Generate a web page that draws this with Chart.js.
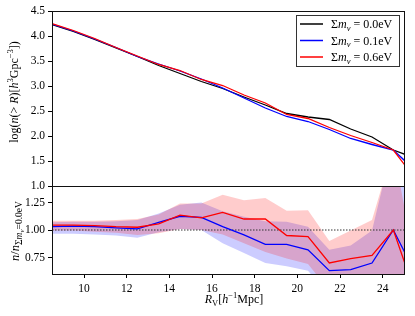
<!DOCTYPE html>
<html>
<head>
<meta charset="utf-8">
<script src="https://cdn.jsdelivr.net/npm/chart.js@4.4.0/dist/chart.umd.min.js"></script>
<style>
    html, body { margin: 0; padding: 0; background: #fff; }
    #wrap { position: relative; width: 415px; height: 316px; }
    canvas { position: absolute; left: 0; top: 0; }
</style>
</head>
<body>
<div id="wrap">
    <canvas id="top-chart" width="415" height="316"></canvas>
    <canvas id="ratio-chart" width="415" height="316"></canvas>
</div>
<script>
// Void radius bin centres (h^-1 Mpc)
const rv = [8.5, 9.5, 10.5, 11.5, 12.5, 13.5, 14.5, 15.5, 16.5, 17.5, 18.5, 19.5, 20.5, 21.5, 22.5, 23.5, 24.5, 25.5];

// log cumulative number density, one list per neutrino mass
const logN00 = [4.23, 4.09, 3.93, 3.76, 3.59, 3.41, 3.25, 3.09, 2.95, 2.78, 2.62, 2.45, 2.38, 2.33, 2.14, 1.98, 1.72, 1.56];
const logN01 = [4.24, 4.10, 3.94, 3.77, 3.59, 3.44, 3.30, 3.14, 2.96, 2.76, 2.56, 2.39, 2.29, 2.13, 1.95, 1.83, 1.72, 1.32];
const logN06 = [4.25, 4.11, 3.95, 3.77, 3.60, 3.43, 3.31, 3.13, 3.01, 2.82, 2.66, 2.43, 2.35, 2.17, 2.01, 1.87, 1.72, 1.16];

// ratio to the massless case, with error bands
const ratio01 = [1.03, 1.035, 1.03, 1.02, 1.01, 1.07, 1.125, 1.115, 1.03, 0.955, 0.87, 0.87, 0.82, 0.63, 0.64, 0.70, 1.0, 0.62];
const ratio06 = [1.045, 1.045, 1.04, 1.03, 1.025, 1.055, 1.135, 1.11, 1.16, 1.10, 1.10, 0.95, 0.94, 0.70, 0.74, 0.77, 1.0, 0.44];
const ratio01Hi = [1.07, 1.075, 1.075, 1.08, 1.09, 1.15, 1.23, 1.25, 1.17, 1.12, 1.08, 1.075, 1.03, 0.82, 0.86, 0.995, 1.8, 1.1];
const ratio01Lo = [0.965, 0.965, 0.96, 0.95, 0.93, 0.98, 1.01, 1.00, 0.88, 0.79, 0.70, 0.67, 0.63, 0.40, 0.40, 0.45, 0.50, 0.2];
const ratio06Hi = [1.085, 1.085, 1.085, 1.09, 1.10, 1.14, 1.24, 1.24, 1.32, 1.27, 1.29, 1.175, 1.18, 0.90, 0.995, 1.09, 1.75, 0.7];
const ratio06Lo = [0.995, 0.995, 0.985, 0.975, 0.955, 0.97, 1.01, 1.00, 0.96, 0.88, 0.80, 0.74, 0.69, 0.45, 0.48, 0.50, 0.45, 0.15];
const refLevel = 1.0;

// legend masses and tick positions
const masses = ['0.0', '0.1', '0.6'];
const seriesColors = ['#000000', '#0000ff', '#ff0000'];
const xTicks = [10, 12, 14, 16, 18, 20, 22, 24];
const topTicks = [1.0, 1.5, 2.0, 2.5, 3.0, 3.5, 4.0, 4.5];
const ratioTicks = [0.75, 1.00, 1.25];

const SERIF = '"Liberation Serif", "DejaVu Serif", serif';
const tickFont = { family: SERIF, size: 11.5 };

function pts(ys) {
    return rv.map((x, i) => ({ x: x, y: ys[i] }));
}

// draw a run of text pieces (sub/superscripts via dy)
function runsWidth(ctx, runs) {
    let w = 0;
    runs.forEach(r => {
        ctx.font = (r.it ? 'italic ' : '') + (r.s || 12) + 'px ' + SERIF;
        w += ctx.measureText(r.t).width;
    });
    return w;
}
function drawRuns(ctx, runs, x, y) {
    runs.forEach(r => {
        ctx.font = (r.it ? 'italic ' : '') + (r.s || 12) + 'px ' + SERIF;
        ctx.fillText(r.t, x, y + (r.dy || 0));
        x += ctx.measureText(r.t).width;
    });
}

// box round the plot area
const framePlugin = {
    id: 'frame',
    afterDraw(chart) {
        const { ctx, chartArea: a } = chart;
        ctx.save();
        ctx.strokeStyle = '#111';
        ctx.lineWidth = 1;
        ctx.strokeRect(a.left + 0.5, a.top + 0.5, a.right - a.left, a.bottom - a.top);
        ctx.restore();
    }
};

// matplotlib style legend with subscript nu
const legendPlugin = {
    id: 'mplLegend',
    afterDraw(chart) {
        const ctx = chart.ctx;
        ctx.save();
        ctx.fillStyle = '#fff';
        ctx.fillRect(296.5, 15.5, 103, 51);
        ctx.strokeStyle = '#333';
        ctx.lineWidth = 1;
        ctx.strokeRect(296.5, 15.5, 103, 51);
        masses.forEach((m, i) => {
            const y = 24 + i * 16.5;
            ctx.strokeStyle = seriesColors[i];
            ctx.lineWidth = 1.5;
            ctx.beginPath();
            ctx.moveTo(300, y);
            ctx.lineTo(323, y);
            ctx.stroke();
            ctx.fillStyle = '#000';
            ctx.textBaseline = 'alphabetic';
            drawRuns(ctx, [
                { t: 'Σ' }, { t: 'm', it: 1 }, { t: 'ν', it: 1, s: 8.5, dy: 2.5 }, { t: ' = ' + m + 'eV' }
            ], 331, y + 4);
        });
        ctx.restore();
    }
};

// axis titles with sub/superscripts
const titlePlugin = {
    id: 'titles',
    afterDraw(chart) {
        const ctx = chart.ctx;
        ctx.save();
        ctx.fillStyle = '#000';
        ctx.textBaseline = 'alphabetic';

        const yTop = [
            { t: 'log(' }, { t: 'n', it: 1 }, { t: '(> ' }, { t: 'R', it: 1 }, { t: ')[' },
            { t: 'h', it: 1 }, { t: '3', s: 8.5, dy: -5 }, { t: 'Gpc' }, { t: '−3', s: 8.5, dy: -5 }, { t: '])' }
        ];
        let w = runsWidth(ctx, yTop);
        ctx.save();
        ctx.translate(14, 92);
        ctx.rotate(-Math.PI / 2);
        drawRuns(ctx, yTop, -w / 2, 4);
        ctx.restore();

        const yRatio = [
            { t: 'n', it: 1, s: 12.5 }, { t: '/', s: 12.5 }, { t: 'n', it: 1, s: 12.5 }, { t: 'Σ', s: 9.5, dy: 2.5 },
            { t: 'm', it: 1, s: 9.5, dy: 2.5 }, { t: 'ν', it: 1, s: 7, dy: 4.5 }, { t: '=0.0eV', s: 9.5, dy: 2.5 }
        ];
        w = runsWidth(ctx, yRatio);
        ctx.save();
        ctx.translate(15, 231);
        ctx.rotate(-Math.PI / 2);
        drawRuns(ctx, yRatio, -w / 2, 4);
        ctx.restore();

        const xTitle = [
            { t: 'R', it: 1 }, { t: 'V', s: 8.5, dy: 2.5 }, { t: '[' }, { t: 'h', it: 1 },
            { t: '−1', s: 8.5, dy: -5 }, { t: 'Mpc]' }
        ];
        w = runsWidth(ctx, xTitle);
        drawRuns(ctx, xTitle, 234 - w / 2, 303);
        ctx.restore();
    }
};

function yAxis(min, max, ticks, digits) {
    return {
        min: min,
        max: max,
        afterFit(scale) { scale.width = 52; },
        afterBuildTicks(scale) { scale.ticks = ticks.map(v => ({ value: v })); },
        ticks: {
            font: tickFont,
            color: '#000',
            padding: 3,
            callback: v => Number(v).toFixed(digits)
        },
        grid: { drawOnChartArea: false, tickLength: 4, color: '#000' },
        border: { display: false }
    };
}

// Upper panel: cumulative void abundance
new Chart(document.getElementById('top-chart'), {
    type: 'line',
    data: {
        datasets: [
            { label: 'Σmν = ' + masses[2] + 'eV', data: pts(logN06), borderColor: seriesColors[2] },
            { label: 'Σmν = ' + masses[1] + 'eV', data: pts(logN01), borderColor: seriesColors[1] },
            { label: 'Σmν = ' + masses[0] + 'eV', data: pts(logN00), borderColor: seriesColors[0] }
        ]
    },
    options: {
        responsive: false,
        animation: false,
        layout: { padding: { left: 0, right: 11, top: 11, bottom: 130 } },
        elements: { point: { radius: 0 }, line: { borderWidth: 1.3, tension: 0 } },
        plugins: { legend: { display: false }, tooltip: { enabled: false } },
        scales: {
            x: { type: 'linear', min: 8.5, max: 25, display: false },
            y: yAxis(1, 4.5, topTicks, 1)
        }
    },
    plugins: [framePlugin, legendPlugin]
});

// Lower panel: ratio to massless case
const noLine = { borderColor: 'rgba(0,0,0,0)', borderWidth: 0, pointRadius: 0 };
new Chart(document.getElementById('ratio-chart'), {
    type: 'line',
    data: {
        datasets: [
            { label: 'ratio 0.6eV', data: pts(ratio06), borderColor: seriesColors[2], fill: false },
            { label: 'ratio 0.1eV', data: pts(ratio01), borderColor: seriesColors[1], fill: false },
            {
                label: 'reference',
                data: [{ x: rv[0], y: refLevel }, { x: rv[rv.length - 1], y: refLevel }],
                borderColor: '#333', borderWidth: 1, borderDash: [1.5, 1.5], fill: false
            },
            Object.assign({ label: '0.6eV upper', data: pts(ratio06Hi), fill: '+1', backgroundColor: 'rgba(255,0,0,0.2)' }, noLine),
            Object.assign({ label: '0.6eV lower', data: pts(ratio06Lo), fill: false }, noLine),
            Object.assign({ label: '0.1eV upper', data: pts(ratio01Hi), fill: '+1', backgroundColor: 'rgba(0,0,255,0.2)' }, noLine),
            Object.assign({ label: '0.1eV lower', data: pts(ratio01Lo), fill: false }, noLine)
        ]
    },
    options: {
        responsive: false,
        animation: false,
        layout: { padding: { left: 0, right: 11, top: 186, bottom: 0 } },
        elements: { point: { radius: 0 }, line: { borderWidth: 1.3, tension: 0 } },
        plugins: { legend: { display: false }, tooltip: { enabled: false } },
        scales: {
            x: {
                type: 'linear',
                min: 8.5,
                max: 25,
                afterFit(scale) { scale.height = 42; },
                afterBuildTicks(scale) { scale.ticks = xTicks.map(v => ({ value: v })); },
                ticks: { font: tickFont, color: '#000', padding: 4, maxRotation: 0, autoSkip: false },
                grid: { drawOnChartArea: false, tickLength: 4, color: '#000' },
                border: { display: false }
            },
            y: yAxis(0.6, 1.4, ratioTicks, 2)
        }
    },
    plugins: [framePlugin, titlePlugin]
});
</script>
</body>
</html>
